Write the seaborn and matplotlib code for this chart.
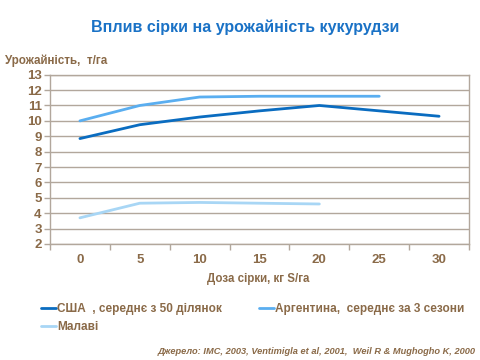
import matplotlib
matplotlib.use("Agg")
import matplotlib.pyplot as plt
import seaborn as sns
import pandas as pd
import numpy as np

doses = [0, 5, 10, 15, 20, 25, 30]
usa = [8.85, 9.75, 10.25, 10.65, 11.0, 10.65, 10.3]
argentina = [10.0, 11.0, 11.55, 11.6, 11.6, 11.6]
malawi = [3.7, 4.65, 4.7, 4.65, 4.6]

series_names = ["США  , середнє з 50 ділянок", "Аргентина,  середнє за 3 сезони", "Малаві"]
colors = ["#0a6cc0", "#5aaef0", "#a8d6f5"]

title = "Вплив сірки на урожайність кукурудзи"
ylabel = "Урожайність,  т/га"
xlabel = "Доза сірки, кг S/га"
source = "Джерело: IMC, 2003, Ventimigla et al, 2001,  Weil R & Mughogho K, 2000"

rows = []
for name, vals in zip(series_names, [usa, argentina, malawi]):
    for d, v in zip(doses, vals):
        rows.append({"dose": d, "yield": v, "series": name})
df = pd.DataFrame(rows)

sns.set_theme(style="white")
plt.rcParams['font.family'] = ['Liberation Sans', 'DejaVu Sans']

txt = "#8a6a48"
grid = "#b2a79c"

fig = plt.figure(figsize=(4.8, 3.6), dpi=100)
ax = fig.add_axes([50/480, 1-244/360, (469-50)/480, (244-74.7)/360])

sns.lineplot(data=df, x="dose", y="yield", hue="series", palette=colors,
             hue_order=series_names, linewidth=2, ax=ax, legend=False, sort=False)

ax.set_xlim(-2.5, 32.5)
ax.set_ylim(2, 13)
ax.set_yticks(range(2, 14))
ax.set_xticks(doses)
ax.set_xticks([d + 2.5 for d in [-5] + doses], minor=True)
ax.yaxis.grid(True, color=grid, linewidth=1)
ax.set_axisbelow(True)
for s in ax.spines.values():
    s.set_color(grid)
    s.set_linewidth(1)
ax.tick_params(axis='y', which='major', left=True, length=4, color=grid, colors=txt, labelsize=9.5, pad=2, width=1)
ax.tick_params(axis='x', which='major', bottom=False, colors=txt, labelsize=9.5, pad=1.5)
ax.tick_params(axis='x', which='minor', bottom=True, length=4, color=grid, width=1)
for lab in ax.get_xticklabels() + ax.get_yticklabels():
    lab.set_fontweight('bold')
    lab.set_color(txt)
ax.set_xlabel("")
ax.set_ylabel("")

fig.text(0.51, 1-27/360, title, ha='center', va='center', color="#1a72c6",
         fontsize=11.5, fontweight='bold')
fig.text(5/480, 1-61/360, ylabel, ha='left', va='center', color=txt,
         fontsize=8.4, fontweight='bold')
fig.text(258/480, 1-279/360, xlabel, ha='center', va='center', color=txt,
         fontsize=8.3, fontweight='bold')
fig.text(476/480, 1-351/360, source, ha='right', va='center', color=txt,
         fontsize=6.7, fontweight='bold', style='italic')

lines = ax.get_lines()[:3]
handles = [lines[0], lines[2], lines[1]]
labels = [series_names[0], series_names[2], series_names[1]]
leg = fig.legend(handles, labels, loc='upper left', bbox_to_anchor=(36/480, 1-298/360),
                 ncol=2, frameon=False, handlelength=1.3, handletextpad=0.1,
                 columnspacing=3.1, labelspacing=0.55, borderaxespad=0,
                 prop={'size': 8.5, 'weight': 'bold'})
for t in leg.get_texts():
    t.set_color(txt)

fig.savefig("out.png", dpi=100)
